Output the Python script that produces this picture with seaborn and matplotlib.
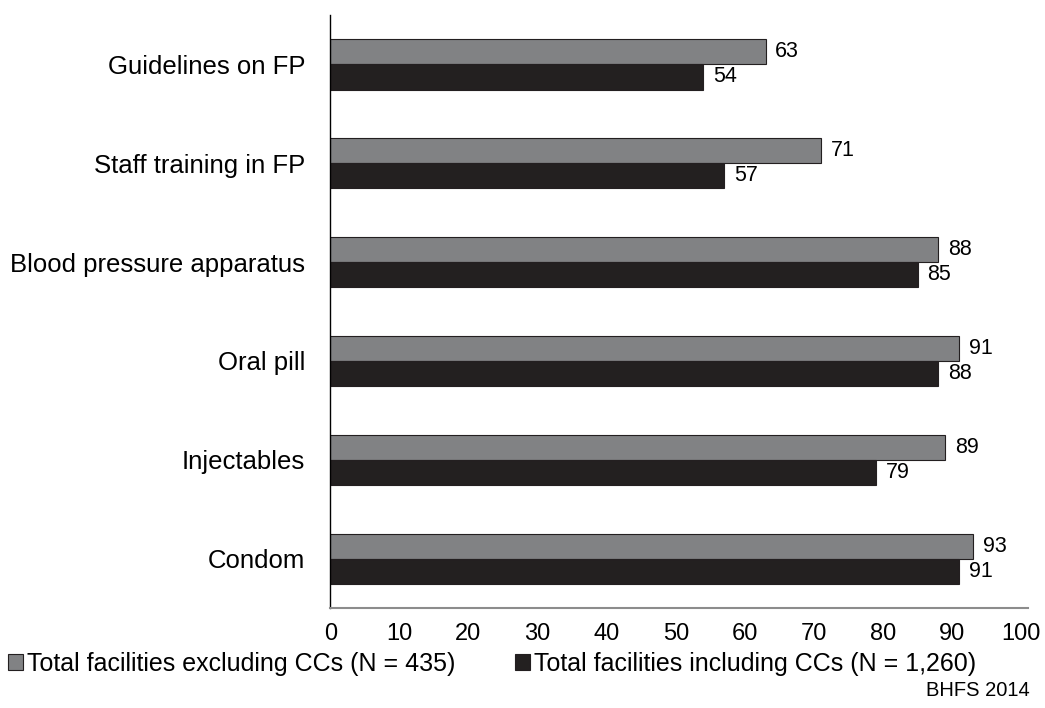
import pandas as pd
import matplotlib.pyplot as plt
import seaborn as sns

categories = ["Guidelines on FP", "Staff training in FP", "Blood pressure apparatus",
              "Oral pill", "Injectables", "Condom"]
excl_ccs = [63, 71, 88, 91, 89, 93]
incl_ccs = [54, 57, 85, 88, 79, 91]
series = ["Total facilities excluding CCs (N = 435)", "Total facilities including CCs (N = 1,260)"]
colors = ["#808285", "#231f20"]
x_ticks = [0, 10, 20, 30, 40, 50, 60, 70, 80, 90, 100]

df = pd.DataFrame({
    "item": categories * 2,
    "value": excl_ccs + incl_ccs,
    "series": [series[0]] * len(categories) + [series[1]] * len(categories),
})

sns.set_style("white")
plt.rcParams["font.family"] = ["Liberation Sans", "DejaVu Sans"]
plt.rcParams["text.color"] = "black"
plt.rcParams["xtick.color"] = "black"
plt.rcParams["ytick.color"] = "black"

fig = plt.figure(figsize=(10.45, 7.08), dpi=100)
ax = fig.add_axes([0.316, 0.141, 0.668, 0.838])

sns.barplot(data=df, y="item", x="value", hue="series", order=categories,
            hue_order=series, palette=colors, width=0.51, orient="h",
            edgecolor="#231f20", linewidth=0.8, ax=ax)

# value labels right of each bar
for cont in ax.containers:
    ax.bar_label(cont, fmt="%d", padding=7, fontsize=15.5)

ax.set_xlim(0, 101)
ax.set_ylim(5.5, -0.5)
ax.set_xticks(x_ticks)
ax.set_xticklabels([str(t) for t in x_ticks], fontsize=17)
ax.tick_params(axis="y", labelsize=18.5, length=0, pad=18)
ax.tick_params(axis="x", length=0, pad=11)
ax.set_xlabel("")
ax.set_ylabel("")

for s in ["top", "right"]:
    ax.spines[s].set_visible(False)
ax.spines["left"].set_color("black")
ax.spines["left"].set_linewidth(1)
ax.spines["bottom"].set_color("#8c8c8c")
ax.spines["bottom"].set_linewidth(1.5)

handles, labels = ax.get_legend_handles_labels()
ax.legend_.remove()
fig.legend(handles, labels, loc="center", bbox_to_anchor=(0.471, 0.062), ncol=2,
           frameon=False, fontsize=18, handlelength=0.6, handleheight=0.6,
           handletextpad=0.15, columnspacing=2.4)

fig.text(0.985, 0.025, "BHFS 2014", ha="right", va="center", fontsize=14.5)

plt.savefig("out.png", dpi=100)
